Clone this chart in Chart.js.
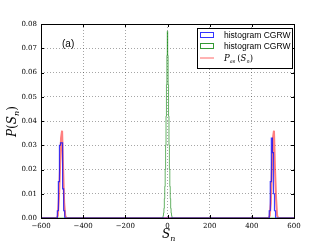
<!DOCTYPE html>
<html>
<head>
<meta charset="utf-8">
<script src="https://cdn.jsdelivr.net/npm/chart.js@4/dist/chart.umd.min.js"></script>
<style>
  html, body { margin: 0; padding: 0; background: #fff; }
  #wrap { width: 327px; height: 245px; }
</style>
</head>
<body>
<div id="wrap"><canvas id="grafico" width="327" height="245"></canvas></div>
<script>
// histogram CGRW (blue), bins near -500 and +500
const blueX = [-600, -525, -520, -515, -510, -505, -500, -495, -490, -485, 480, 485, 490, 495, 500, 505, 510, 515, 600];
const blueY = [0, 0, 0.003, 0.015, 0.030, 0.031, 0.031, 0.012, 0.003, 0, 0, 0.003, 0.015, 0.033, 0.027, 0.010, 0.003, 0, 0];

// histogram CGRW (green), bins near 0
const greenX = [-600, -22, -20, -18, -16, -14, -12, -10, -8, -6, -4, -2, 0, 2, 4, 6, 8, 10, 12, 14, 16, 18, 20, 22, 600];
const greenY = [0, 0, 0.001, 0.002, 0.004, 0.008, 0.013, 0.020, 0.030, 0.042, 0.055, 0.067, 0.077, 0.067, 0.055, 0.042, 0.030, 0.020, 0.013, 0.008, 0.004, 0.002, 0.001, 0, 0];

// P_as(S_n) (red)
const redX = [-600, -525, -520, -515, -510, -505, -500, -495, -490, -485, -480, 480, 485, 490, 495, 500, 505, 510, 515, 520, 525, 600];
const redY = [0, 0, 0.001, 0.008, 0.020, 0.033, 0.036, 0.020, 0.006, 0.001, 0, 0, 0.001, 0.006, 0.020, 0.033, 0.036, 0.020, 0.008, 0.001, 0, 0];

const xTicks = [-600, -400, -200, 0, 200, 400, 600];
const yTicks = [0, 0.01, 0.02, 0.03, 0.04, 0.05, 0.06, 0.07, 0.08];

const legendLabels = ['histogram CGRW', 'histogram CGRW'];

function pontos(xs, ys) {
  return xs.map((x, i) => ({ x: x, y: ys[i] }));
}

// texto com subscrito (S_n etc.)
function textoSub(ctx, partes, x, y) {
  let cx = x;
  partes.forEach(p => {
    ctx.font = p.font;
    ctx.fillText(p.t, cx, y + (p.dy || 0));
    cx += ctx.measureText(p.t).width;
  });
  return cx;
}

const extras = {
  id: 'extras',
  afterDraw(chart) {
    const ctx = chart.ctx;
    const a = chart.chartArea;
    ctx.save();
    ctx.fillStyle = '#000';
    ctx.textBaseline = 'alphabetic';
    ctx.textAlign = 'left';

    // caixa do eixo
    ctx.strokeStyle = '#000';
    ctx.lineWidth = 1;
    ctx.strokeRect(a.left + 0.5, a.top + 0.5, a.right - a.left, a.bottom - a.top);

    // ticks para dentro (estilo matplotlib)
    const sx = chart.scales.x, sy = chart.scales.y;
    ctx.beginPath();
    xTicks.forEach(v => {
      const px = Math.round(sx.getPixelForValue(v)) + 0.5;
      ctx.moveTo(px, a.bottom); ctx.lineTo(px, a.bottom - 3);
      ctx.moveTo(px, a.top); ctx.lineTo(px, a.top + 3);
    });
    yTicks.forEach(v => {
      const py = Math.round(sy.getPixelForValue(v)) + 0.5;
      ctx.moveTo(a.left, py); ctx.lineTo(a.left + 3, py);
      ctx.moveTo(a.right, py); ctx.lineTo(a.right - 3, py);
    });
    ctx.stroke();

    // (a)
    ctx.font = '10px "Liberation Sans", Arial, sans-serif';
    ctx.fillText('(a)', 62, 47);

    // x title S_n
    const ser = '"DejaVu Serif", "Liberation Serif", serif';
    textoSub(ctx, [
      { t: 'S', font: 'italic 12px ' + ser },
      { t: 'n', font: 'italic 8px ' + ser, dy: 3 }
    ], 162, 238);

    // y title P(S_n) rotated
    ctx.save();
    ctx.translate(16, 137);
    ctx.rotate(-Math.PI / 2);
    textoSub(ctx, [
      { t: 'P', font: 'italic 12px ' + ser },
      { t: '(', font: '12px ' + ser },
      { t: 'S', font: 'italic 12px ' + ser },
      { t: 'n', font: 'italic 8px ' + ser, dy: 3 },
      { t: ')', font: '12px ' + ser }
    ], 0, 0);
    ctx.restore();

    // legenda
    const lx = 197, ly = 28, lw = 95, lh = 40;
    ctx.fillStyle = '#fff';
    ctx.fillRect(lx, ly, lw, lh);
    ctx.strokeStyle = '#000';
    ctx.lineWidth = 1;
    ctx.strokeRect(lx + 0.5, ly + 0.5, lw, lh);
    const linhas = [35, 46, 58];
    const cores = ['rgba(0,0,255,0.8)', 'rgba(0,128,0,0.8)'];
    ctx.font = '8.5px "Liberation Sans", Arial, sans-serif';
    for (let i = 0; i < 2; i++) {
      ctx.strokeStyle = cores[i];
      ctx.strokeRect(200.5, linhas[i] - 2.5, 13, 5);
      ctx.fillStyle = '#000';
      ctx.fillText(legendLabels[i], 224, linhas[i] + 3);
    }
    ctx.strokeStyle = 'rgba(255,0,0,0.6)';
    ctx.beginPath();
    ctx.moveTo(200, linhas[2]);
    ctx.lineTo(214, linhas[2]);
    ctx.stroke();
    ctx.fillStyle = '#000';
    const fx = textoSub(ctx, [
      { t: 'P', font: 'italic 8.5px ' + ser },
      { t: 'as', font: 'italic 5px ' + ser, dy: 2 }
    ], 224, linhas[2] + 3);
    textoSub(ctx, [
      { t: '(', font: '8.5px ' + ser },
      { t: 'S', font: 'italic 8.5px ' + ser },
      { t: 'n', font: 'italic 5px ' + ser, dy: 2 },
      { t: ')', font: '8.5px ' + ser }
    ], fx + 2, linhas[2] + 3);
    ctx.restore();
  }
};

const fonteTick = { family: '"DejaVu Serif", "Liberation Serif", serif', size: 7 };

new Chart(document.getElementById('grafico'), {
  type: 'line',
  data: {
    datasets: [
      {
        label: legendLabels[0],
        data: pontos(blueX, blueY),
        borderColor: 'rgba(0,0,255,0.75)',
        borderWidth: 1.2,
        stepped: 'middle',
        pointRadius: 0,
        fill: false
      },
      {
        label: legendLabels[1],
        data: pontos(greenX, greenY),
        borderColor: 'rgba(0,128,0,0.6)',
        borderWidth: 1,
        stepped: 'middle',
        pointRadius: 0,
        fill: false
      },
      {
        label: 'P_as(S_n)',
        data: pontos(redX, redY),
        borderColor: 'rgba(255,0,0,0.5)',
        borderWidth: 2,
        tension: 0,
        pointRadius: 0,
        fill: false
      }
    ]
  },
  options: {
    responsive: false,
    animation: false,
    layout: { padding: { left: 0, right: 33, top: 24, bottom: 0 } },
    plugins: {
      legend: { display: false },
      tooltip: { enabled: false }
    },
    scales: {
      x: {
        type: 'linear',
        min: -600,
        max: 600,
        afterFit: s => { s.height = 27; },
        afterBuildTicks: s => { s.ticks = xTicks.map(v => ({ value: v })); },
        grid: { color: 'rgba(0,0,0,0.35)', drawTicks: false },
        border: { display: false, dash: [1, 2] },
        ticks: { font: fonteTick, color: '#000', padding: 4, maxRotation: 0, callback: v => (v < 0 ? '\u2212' + Math.abs(v) : v) }
      },
      y: {
        min: 0,
        max: 0.08,
        afterFit: s => { s.width = 41; },
        afterBuildTicks: s => { s.ticks = yTicks.map(v => ({ value: v })); },
        grid: { color: 'rgba(0,0,0,0.35)', drawTicks: false },
        border: { display: false, dash: [1, 2] },
        ticks: { font: fonteTick, color: '#000', padding: 4, callback: v => v.toFixed(2) }
      }
    }
  },
  plugins: [extras]
});
</script>
</body>
</html>
